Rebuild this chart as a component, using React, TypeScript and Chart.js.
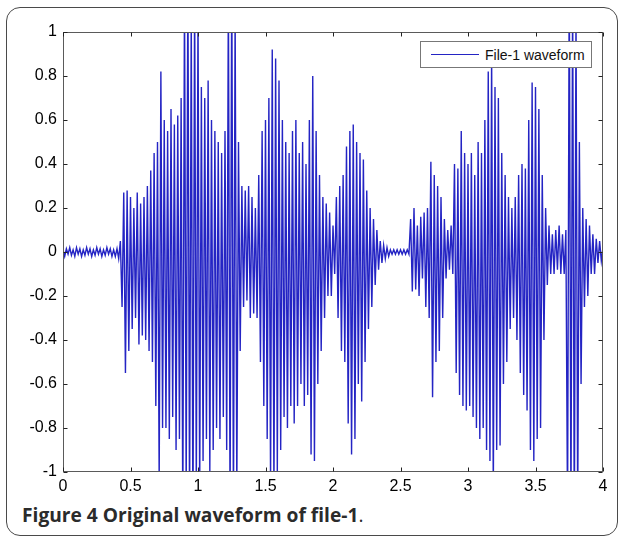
import React, { useEffect, useRef } from "react";
import { Chart, registerables } from "chart.js";

Chart.register(...registerables);

// Sample rate of the plotted waveform (samples per second of the x axis)
const SAMPLE_RATE = 80;

// Waveform samples, one array per second
const samplesSec1 = [
  0.01, -0.02, 0.015, -0.01, 0.02, -0.015, 0.01, -0.02, 0.02, -0.01, 0.015, -0.02, 0.01, -0.015, 0.02, -0.01, 0.015, -0.02, 0.01, -0.015,
  0.02, -0.01, 0.015, -0.02, 0.01, -0.015, 0.02, -0.01, 0.015, -0.02, 0.01, -0.02, 0.015, -0.03, 0.05, -0.25, 0.27, -0.55, 0.28, -0.45,
  0.25, -0.35, 0.2, -0.3, 0.27, -0.42, 0.22, -0.38, 0.25, -0.4, 0.3, -0.45, 0.37, -0.5, 0.45, -0.7, 0.5, -1.05, 0.82, -0.8,
  0.6, -0.8, 0.55, -0.85, 0.65, -0.75, 0.58, -0.9, 0.62, -0.85, 0.7, -1.2, 1.2, -1.1, 1.3, -1.2, 1.1, -1.3, 1.2, -1.1,
];
const samplesSec2 = [
  1.1, -1.1, 0.75, -0.95, 0.7, -0.85, 0.78, -1.0, 0.6, -0.9, 0.55, -0.8, 0.5, -0.85, 0.45, -0.75, 0.55, -0.9, 1.2, -1.2,
  1.3, -1.2, 1.1, -1.1, 0.5, -0.45, 0.3, -0.25, 0.28, -0.22, 0.3, -0.3, 0.25, -0.28, 0.2, -0.3, 0.35, -0.5, 0.55, -0.7,
  0.6, -0.85, 0.7, -1.05, 0.92, -1.1, 0.88, -1.0, 0.78, -0.9, 0.6, -0.75, 0.5, -0.8, 0.45, -0.7, 0.55, -0.78, 0.6, -0.7,
  0.45, -0.6, 0.5, -0.7, 0.4, -0.65, 0.6, -0.92, 0.8, -0.95, 0.55, -0.6, 0.35, -0.45, 0.25, -0.3, 0.22, -0.2, 0.18, -0.2,
];
const samplesSec3 = [
  0.12, -0.1, 0.25, -0.3, 0.3, -0.45, 0.35, -0.5, 0.48, -0.78, 0.55, -0.92, 0.58, -0.85, 0.5, -0.6, 0.45, -0.68, 0.42, -0.5,
  0.28, -0.35, 0.2, -0.25, 0.15, -0.15, 0.1, -0.08, 0.05, -0.05, 0.03, -0.03, 0.02, -0.02, 0.01, -0.01, 0.01, -0.01, 0.01, -0.01,
  0.01, -0.01, 0.01, -0.01, 0.01, -0.01, 0.15, -0.18, 0.2, -0.17, 0.12, -0.2, 0.16, -0.12, 0.18, -0.25, 0.2, -0.3, 0.41, -0.66,
  0.35, -0.5, 0.3, -0.45, 0.25, -0.3, 0.15, -0.12, 0.1, -0.08, 0.12, -0.1, 0.4, -0.55, 0.38, -0.65, 0.55, -0.7, 0.45, -0.72,
];
const samplesSec4 = [
  0.4, -0.7, 0.45, -0.75, 0.35, -0.8, 0.5, -0.85, 0.45, -0.8, 0.6, -0.9, 0.82, -0.95, 0.9, -1.1, 0.75, -0.9, 0.7, -0.88,
  0.45, -0.6, 0.35, -0.5, 0.25, -0.35, 0.2, -0.3, 0.25, -0.4, 0.35, -0.55, 0.4, -0.65, 0.38, -0.72, 0.6, -0.9, 0.77, -0.95,
  0.75, -0.85, 0.65, -0.8, 0.35, -0.4, 0.2, -0.15, 0.12, -0.1, 0.08, -0.1, 0.1, -0.08, 0.12, -0.1, 0.08, -0.1, 0.1, -1.2,
  1.3, -1.2, 1.2, -1.3, 1.1, -1.2, 0.5, -0.6, 0.2, -0.25, 0.15, -0.2, 0.12, -0.1, 0.08, -0.1, 0.06, -0.05, 0.05, -0.04,
];
const finalSample = [0.02];

const xTicks = [0, 0.5, 1, 1.5, 2, 2.5, 3, 3.5, 4];
const yTicks = [-1, -0.8, -0.6, -0.4, -0.2, 0, 0.2, 0.4, 0.6, 0.8, 1];

const seriesLabel = "File-1 waveform";
const captionBold = "Figure 4 Original waveform of file-1";

const WAVE_COLOR = "rgb(36,36,196)";

const matlabBox = {
  id: "matlabBox",
  afterDatasetsDraw(chart: any) {
    const { ctx, chartArea, scales } = chart;
    const { left, right, top, bottom } = chartArea;
    const L = Math.round(left) + 0.5;
    const R = Math.round(right) - 0.5;
    const T = Math.round(top) + 0.5;
    const B = Math.round(bottom) - 0.5;
    ctx.save();
    ctx.strokeStyle = "#5a5a5a";
    ctx.lineWidth = 1;
    ctx.strokeRect(L, T, R - L, B - T);
    ctx.strokeStyle = "#222";
    const len = 4;
    ctx.beginPath();
    xTicks.forEach((v) => {
      const px = Math.round(scales.x.getPixelForValue(v)) + 0.5;
      ctx.moveTo(px, B);
      ctx.lineTo(px, B - len);
      ctx.moveTo(px, T);
      ctx.lineTo(px, T + len);
    });
    yTicks.forEach((v) => {
      const py = Math.round(scales.y.getPixelForValue(v)) + 0.5;
      ctx.moveTo(L, py);
      ctx.lineTo(L + len, py);
      ctx.moveTo(R, py);
      ctx.lineTo(R - len, py);
    });
    ctx.stroke();
    ctx.restore();
  },
};

export default function App() {
  const canvasRef = useRef<HTMLCanvasElement | null>(null);

  useEffect(() => {
    const all = [...samplesSec1, ...samplesSec2, ...samplesSec3, ...samplesSec4, ...finalSample];
    const points = all.map((v, i) => ({ x: i / SAMPLE_RATE, y: v }));
    const tickFont = { family: "'Liberation Sans', Arial, sans-serif", size: 16 };
    const chart = new Chart(canvasRef.current as HTMLCanvasElement, {
      type: "line",
      data: {
        datasets: [
          {
            label: seriesLabel,
            data: points,
            borderColor: WAVE_COLOR,
            borderWidth: 1.4,
            pointRadius: 0,
            tension: 0,
            clip: 0,
          } as any,
        ],
      },
      plugins: [matlabBox],
      options: {
        animation: false,
        responsive: false,
        maintainAspectRatio: false,
        events: [],
        layout: { padding: { top: 32, right: 21, left: 0, bottom: 0 } },
        plugins: { legend: { display: false }, tooltip: { enabled: false } },
        scales: {
          x: {
            type: "linear",
            min: 0,
            max: 4,
            afterBuildTicks: (s: any) => {
              s.ticks = xTicks.map((v) => ({ value: v }));
            },
            ticks: {
              color: "#000",
              font: tickFont,
              padding: 5,
              maxRotation: 0,
              callback: (v: any) => String(v),
            },
            grid: { display: false, drawTicks: false, tickLength: 0 },
            border: { display: false },
            afterFit: (s: any) => {
              s.height = 28;
            },
          },
          y: {
            type: "linear",
            min: -1,
            max: 1,
            afterBuildTicks: (s: any) => {
              s.ticks = yTicks.map((v) => ({ value: v }));
            },
            ticks: {
              color: "#000",
              font: tickFont,
              padding: 6,
              callback: (v: any) => String(v),
            },
            grid: { display: false, drawTicks: false, tickLength: 0 },
            border: { display: false },
            afterFit: (s: any) => {
              s.width = 63;
            },
          },
        },
      },
    });
    return () => chart.destroy();
  }, []);

  return (
    <div style={{ position: "fixed", left: 0, top: 0, width: 624, height: 537, background: "#fff", overflow: "hidden" }}>
      <div
        style={{
          position: "absolute",
          left: 6,
          top: 7,
          width: 612,
          height: 529,
          boxSizing: "border-box",
          border: "1.5px solid #4a4a4a",
          borderRadius: 14,
        }}
      />
      <canvas ref={canvasRef} width={624} height={500} style={{ position: "absolute", left: 0, top: 0 }} />
      <div
        style={{
          position: "absolute",
          left: 420,
          top: 41,
          width: 172,
          height: 27,
          boxSizing: "border-box",
          border: "1px solid #777",
          background: "#fff",
          display: "flex",
          alignItems: "center",
        }}
      >
        <div style={{ marginLeft: 10, width: 48, height: 1, background: WAVE_COLOR }} />
        <span
          style={{
            marginLeft: 6,
            fontFamily: "'Liberation Sans', Arial, sans-serif",
            fontSize: 14,
            color: "#111",
            whiteSpace: "nowrap",
          }}
        >
          {seriesLabel}
        </span>
      </div>
      <div
        style={{
          position: "absolute",
          left: 22,
          top: 501,
          fontFamily: "'Open Sans', sans-serif",
          fontSize: 19.2,
          fontWeight: 700,
          color: "#2b2b2b",
          whiteSpace: "nowrap",
        }}
      >
        {captionBold}
        <span style={{ fontWeight: 400 }}>.</span>
      </div>
    </div>
  );
}
